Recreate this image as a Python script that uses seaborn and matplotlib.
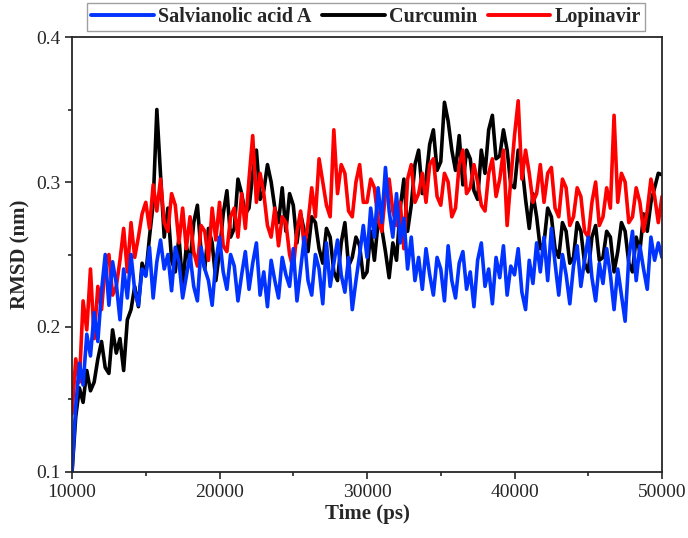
import numpy as np
import pandas as pd
import matplotlib
matplotlib.use("Agg")
import matplotlib.pyplot as plt
from matplotlib.ticker import MultipleLocator
import seaborn as sns

# Time axis (ps), one reading every 250 ps
time_ps = list(range(10000, 50001, 250))

salvianolic = [
    0.100, 0.145, 0.175, 0.160, 0.195, 0.180, 0.210, 0.190,
    0.225, 0.250, 0.215, 0.245, 0.230, 0.205, 0.240, 0.220,
    0.250, 0.225, 0.215, 0.240, 0.235, 0.255, 0.220, 0.245,
    0.260, 0.240, 0.250, 0.225, 0.255, 0.245, 0.220, 0.235,
    0.250, 0.228, 0.218, 0.255, 0.240, 0.232, 0.215, 0.245,
    0.262, 0.238, 0.226, 0.250, 0.242, 0.218, 0.236, 0.252,
    0.226, 0.244, 0.258, 0.222, 0.238, 0.214, 0.246, 0.232,
    0.220, 0.248, 0.236, 0.228, 0.254, 0.218, 0.240, 0.262,
    0.232, 0.222, 0.250, 0.240, 0.216, 0.258, 0.228, 0.244,
    0.260, 0.236, 0.224, 0.248, 0.212, 0.232, 0.250, 0.270,
    0.248, 0.282, 0.262, 0.296, 0.272, 0.310, 0.280, 0.262,
    0.292, 0.258, 0.275, 0.240, 0.262, 0.232, 0.248, 0.226,
    0.254, 0.236, 0.222, 0.248, 0.240, 0.218, 0.256, 0.232,
    0.220, 0.244, 0.252, 0.226, 0.238, 0.214, 0.246, 0.258,
    0.228, 0.240, 0.216, 0.248, 0.234, 0.256, 0.222, 0.242,
    0.236, 0.254, 0.224, 0.212, 0.246, 0.230, 0.258, 0.238,
    0.262, 0.232, 0.268, 0.244, 0.222, 0.250, 0.236, 0.216,
    0.242, 0.256, 0.228, 0.246, 0.262, 0.234, 0.218, 0.244,
    0.230, 0.254, 0.236, 0.212, 0.240, 0.222, 0.204, 0.248,
    0.266, 0.232, 0.256, 0.240, 0.226, 0.262, 0.246, 0.258,
    0.248,
]

curcumin = [
    0.100, 0.138, 0.158, 0.148, 0.170, 0.156, 0.162, 0.178,
    0.190, 0.172, 0.168, 0.198, 0.182, 0.192, 0.170, 0.205,
    0.212, 0.228, 0.214, 0.244, 0.236, 0.262, 0.285, 0.350,
    0.305, 0.262, 0.282, 0.246, 0.238, 0.262, 0.228, 0.256,
    0.244, 0.272, 0.284, 0.252, 0.240, 0.268, 0.258, 0.232,
    0.252, 0.278, 0.294, 0.262, 0.268, 0.302, 0.292, 0.278,
    0.282, 0.306, 0.322, 0.288, 0.294, 0.312, 0.300, 0.282,
    0.272, 0.296, 0.266, 0.292, 0.284, 0.258, 0.278, 0.266,
    0.252, 0.276, 0.272, 0.254, 0.244, 0.268, 0.262, 0.238,
    0.232, 0.258, 0.272, 0.242, 0.248, 0.262, 0.256, 0.234,
    0.238, 0.266, 0.246, 0.272, 0.268, 0.252, 0.234, 0.258,
    0.246, 0.282, 0.302, 0.266, 0.284, 0.312, 0.322, 0.292,
    0.302, 0.326, 0.336, 0.308, 0.314, 0.355, 0.342, 0.322,
    0.308, 0.332, 0.298, 0.322, 0.316, 0.294, 0.288, 0.322,
    0.306, 0.336, 0.346, 0.316, 0.318, 0.336, 0.322, 0.298,
    0.296, 0.322, 0.312, 0.288, 0.268, 0.292, 0.276, 0.254,
    0.258, 0.282, 0.276, 0.254, 0.248, 0.272, 0.266, 0.244,
    0.248, 0.272, 0.266, 0.244, 0.238, 0.262, 0.270, 0.246,
    0.248, 0.266, 0.262, 0.238, 0.252, 0.272, 0.266, 0.244,
    0.238, 0.262, 0.252, 0.278, 0.266, 0.286, 0.296, 0.306,
    0.305,
]

lopinavir = [
    0.140, 0.178, 0.162, 0.218, 0.198, 0.240, 0.192, 0.228,
    0.212, 0.242, 0.250, 0.222, 0.228, 0.246, 0.268, 0.238,
    0.272, 0.248, 0.262, 0.278, 0.286, 0.268, 0.298, 0.280,
    0.302, 0.272, 0.266, 0.292, 0.284, 0.258, 0.282, 0.254,
    0.276, 0.252, 0.242, 0.270, 0.266, 0.246, 0.282, 0.260,
    0.286, 0.256, 0.252, 0.276, 0.282, 0.262, 0.292, 0.268,
    0.302, 0.332, 0.286, 0.306, 0.292, 0.270, 0.262, 0.282,
    0.256, 0.276, 0.272, 0.250, 0.240, 0.266, 0.280, 0.254,
    0.272, 0.296, 0.276, 0.316, 0.300, 0.284, 0.276, 0.336,
    0.292, 0.312, 0.306, 0.280, 0.276, 0.300, 0.312, 0.286,
    0.286, 0.302, 0.296, 0.274, 0.266, 0.292, 0.302, 0.280,
    0.270, 0.286, 0.254, 0.302, 0.312, 0.286, 0.292, 0.306,
    0.286, 0.312, 0.316, 0.290, 0.284, 0.306, 0.300, 0.276,
    0.282, 0.312, 0.322, 0.292, 0.296, 0.312, 0.300, 0.284,
    0.280, 0.306, 0.316, 0.290, 0.302, 0.322, 0.270, 0.302,
    0.332, 0.356, 0.302, 0.322, 0.306, 0.286, 0.292, 0.312,
    0.286, 0.306, 0.310, 0.282, 0.276, 0.302, 0.296, 0.270,
    0.276, 0.296, 0.290, 0.266, 0.262, 0.286, 0.300, 0.270,
    0.276, 0.296, 0.282, 0.346, 0.286, 0.306, 0.300, 0.272,
    0.276, 0.296, 0.286, 0.266, 0.280, 0.302, 0.290, 0.272,
    0.290,
]

names = ["Salvianolic acid A", "Curcumin", "Lopinavir"]
colors = {"Salvianolic acid A": "#0033ff", "Curcumin": "#000000", "Lopinavir": "#ff0000"}

df = pd.concat([
    pd.DataFrame({"time": time_ps, "rmsd": vals, "ligand": name})
    for name, vals in zip(names, [salvianolic, curcumin, lopinavir])
])

sns.set_style("ticks")
plt.rcParams["font.family"] = ["Liberation Serif", "DejaVu Serif"]

fig = plt.figure(figsize=(6.88, 5.38), dpi=100)
ax = fig.add_axes([0.1047, 0.1227, 0.8575, 0.8085])

# draw black first, then red, then blue on top
sns.lineplot(data=df, x="time", y="rmsd", hue="ligand",
             hue_order=["Curcumin", "Lopinavir", "Salvianolic acid A"],
             palette=colors, estimator=None, sort=False, linewidth=2.6, ax=ax)

ax.set_xlim(10000, 50000)
ax.set_ylim(0.1, 0.4)
ax.xaxis.set_major_locator(MultipleLocator(10000))
ax.xaxis.set_minor_locator(MultipleLocator(5000))
ax.yaxis.set_major_locator(MultipleLocator(0.1))
ax.yaxis.set_minor_locator(MultipleLocator(0.05))
ax.tick_params(axis="both", which="major", direction="out", length=5, width=1.2,
               labelsize=14, top=False, right=False)
ax.tick_params(axis="both", which="minor", direction="out", length=3, width=1.2,
               top=False, right=False)
for sp in ax.spines.values():
    sp.set_linewidth(1.3)
    sp.set_visible(True)

ax.set_xlabel("Time (ps)", fontsize=15, fontweight="bold", labelpad=2)
ax.set_ylabel("RMSD (nm)", fontsize=15, fontweight="bold", labelpad=4)

# legend above the plot, in the order Salvianolic / Curcumin / Lopinavir
handles, labels = ax.get_legend_handles_labels()
lookup = dict(zip(labels, handles))
ax.get_legend().remove()
leg = fig.legend([lookup[n] for n in names], names, ncol=3,
                 loc="upper center", bbox_to_anchor=(0.532, 0.994),
                 borderaxespad=0.0,
                 frameon=True, fancybox=False, edgecolor="#888888",
                 handlelength=3.1, handletextpad=0.2, columnspacing=0.55,
                 borderpad=0.2, prop={"weight": "bold", "size": 14.5})
leg.get_frame().set_linewidth(1.0)
for line in leg.get_lines():
    line.set_linewidth(2.8)

fig.savefig("out.png", dpi=100)
